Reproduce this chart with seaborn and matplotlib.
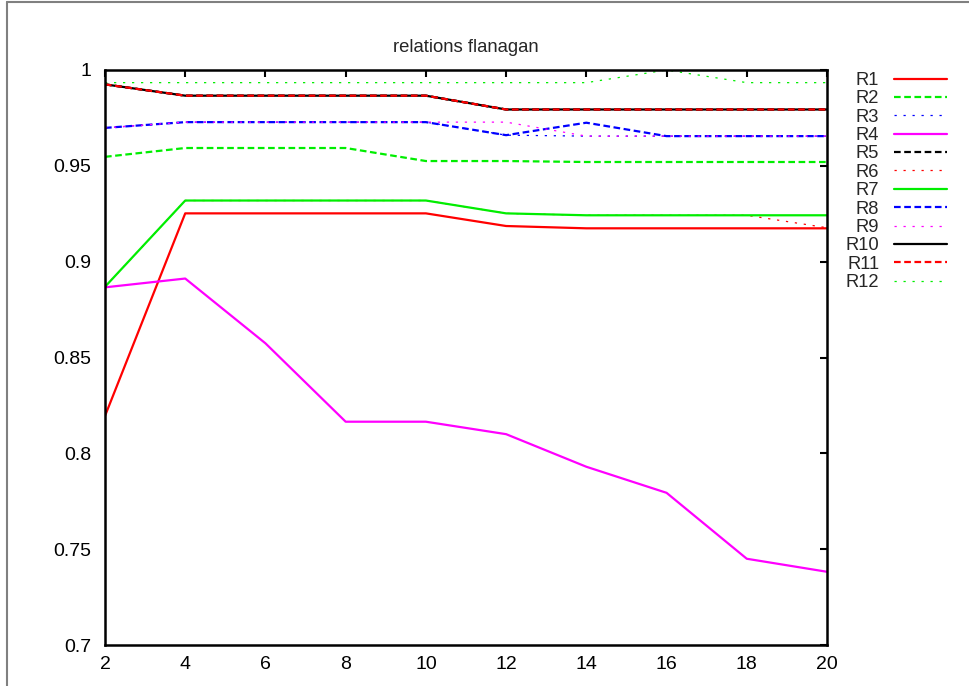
import matplotlib
matplotlib.use("Agg")
import numpy as np
import pandas as pd
import matplotlib.pyplot as plt
import seaborn as sns
from matplotlib.lines import Line2D

# ---------------- data ----------------
x_vals = [2, 4, 6, 8, 10, 12, 14, 16, 18, 20]

R1 = [0.8195, 0.9252, 0.9252, 0.9252, 0.9252, 0.9186, 0.9174, 0.9174, 0.9174, 0.9174]
R2 = [0.9547, 0.9593, 0.9593, 0.9593, 0.9525, 0.9525, 0.9520, 0.9520, 0.9520, 0.9520]
R3 = [0.9698, 0.9728, 0.9728, 0.9728, 0.9728, 0.9660, 0.9655, 0.9655, 0.9655, 0.9655]
R4 = [0.8866, 0.8912, 0.8574, 0.8165, 0.8165, 0.8100, 0.7930, 0.7794, 0.7450, 0.7382]
R5 = [0.9925, 0.9866, 0.9866, 0.9866, 0.9866, 0.9794, 0.9794, 0.9794, 0.9794, 0.9794]
R6 = [0.8869, 0.9319, 0.9319, 0.9319, 0.9319, 0.9252, 0.9242, 0.9242, 0.9242, 0.9177]
R7 = [0.8869, 0.9319, 0.9319, 0.9319, 0.9319, 0.9252, 0.9242, 0.9242, 0.9242, 0.9242]
R8 = [0.9698, 0.9728, 0.9728, 0.9728, 0.9728, 0.9660, 0.9725, 0.9655, 0.9655, 0.9655]
R9 = [0.9698, 0.9728, 0.9728, 0.9728, 0.9728, 0.9728, 0.9655, 0.9655, 0.9655, 0.9655]
R10 = [0.9925, 0.9866, 0.9866, 0.9866, 0.9866, 0.9794, 0.9794, 0.9794, 0.9794, 0.9794]
R11 = [0.9925, 0.9866, 0.9866, 0.9866, 0.9866, 0.9794, 0.9794, 0.9794, 0.9794, 0.9794]
R12 = [0.9934, 0.9934, 0.9934, 0.9934, 0.9934, 0.9934, 0.9934, 1.0000, 0.9934, 0.9934]

series_names = ["R1", "R2", "R3", "R4", "R5", "R6", "R7", "R8", "R9", "R10", "R11", "R12"]
series_values = [R1, R2, R3, R4, R5, R6, R7, R8, R9, R10, R11, R12]
series_colors = ["#ff0000", "#00ee00", "#0000ff", "#ff00ff", "#000000", "#ff0000",
                 "#00ee00", "#0000ff", "#ff00ff", "#000000", "#ff0000", "#00ee00"]
series_styles = ["solid", "dashed", "dotted", "solid", "dashed", "dotted",
                 "solid", "dashed", "dotted", "solid", "dashed", "dotted"]

ytick_vals = [0.7, 0.75, 0.8, 0.85, 0.9, 0.95, 1.0]
ytick_labels = ["0.7", "0.75", "0.8", "0.85", "0.9", "0.95", "1"]
xtick_labels = ["2", "4", "6", "8", "10", "12", "14", "16", "18", "20"]
title_text = "relations flanagan"

df = pd.DataFrame(
    [(n, xv, yv) for n, vals in zip(series_names, series_values) for xv, yv in zip(x_vals, vals)],
    columns=["series", "x", "value"],
)

# ---------------- style ----------------
sns.set_style("white")
plt.rcParams["font.family"] = ["Liberation Sans", "DejaVu Sans"]

style_map = {
    "solid": ("-", 1.6),
    "dashed": ((0, (3.0, 1.6)), 1.6),
    "dotted": ((0, (1.8, 5.4)), 0.9),
}

W, H = 969, 686
fig = plt.figure(figsize=(W / 100, H / 100), dpi=100)
ax = fig.add_axes([105 / W, 41 / H, (827 - 105) / W, (645 - 70) / H])

for name, col, st in zip(series_names, series_colors, series_styles):
    ls, lw = style_map[st]
    sub = df[df["series"] == name]
    sns.lineplot(data=sub, x="x", y="value", ax=ax, color=col, linewidth=lw,
                 linestyle=ls, label=name, errorbar=None, estimator=None)

ax.set_xlim(2, 20)
ax.set_ylim(0.7, 1.0)
ax.set_xticks(x_vals)
ax.set_xticklabels(xtick_labels)
ax.set_yticks(ytick_vals)
ax.set_yticklabels(ytick_labels)
ax.set_xlabel("")
ax.set_ylabel("")
ax.tick_params(direction="in", length=5, width=1.5, top=True, right=True,
               labelsize=14, colors="black")
ax.tick_params(axis="y", pad=10)
ax.tick_params(axis="x", pad=8)
for s in ax.spines.values():
    s.set_visible(True)
    s.set_linewidth(1.8)
    s.set_color("black")

ax.set_title(title_text, fontsize=13.3, pad=13)

leg = ax.legend(loc="upper right", bbox_to_anchor=(947 / W, 1 - 72 / H),
                bbox_transform=fig.transFigure, frameon=False, markerfirst=False,
                handlelength=2.9, handletextpad=0.8, labelspacing=0.075,
                borderpad=0, borderaxespad=0, fontsize=13.2)

# outer frame (grey lines at top and left of the image)
fig.add_artist(Line2D([7 / W, 7 / W], [0, 1 - 1.5 / H], transform=fig.transFigure,
                      color="#808080", lw=1.5))
fig.add_artist(Line2D([7 / W, 1], [1 - 1.5 / H, 1 - 1.5 / H], transform=fig.transFigure,
                      color="#808080", lw=1.5))

fig.savefig("out.png", dpi=100)
